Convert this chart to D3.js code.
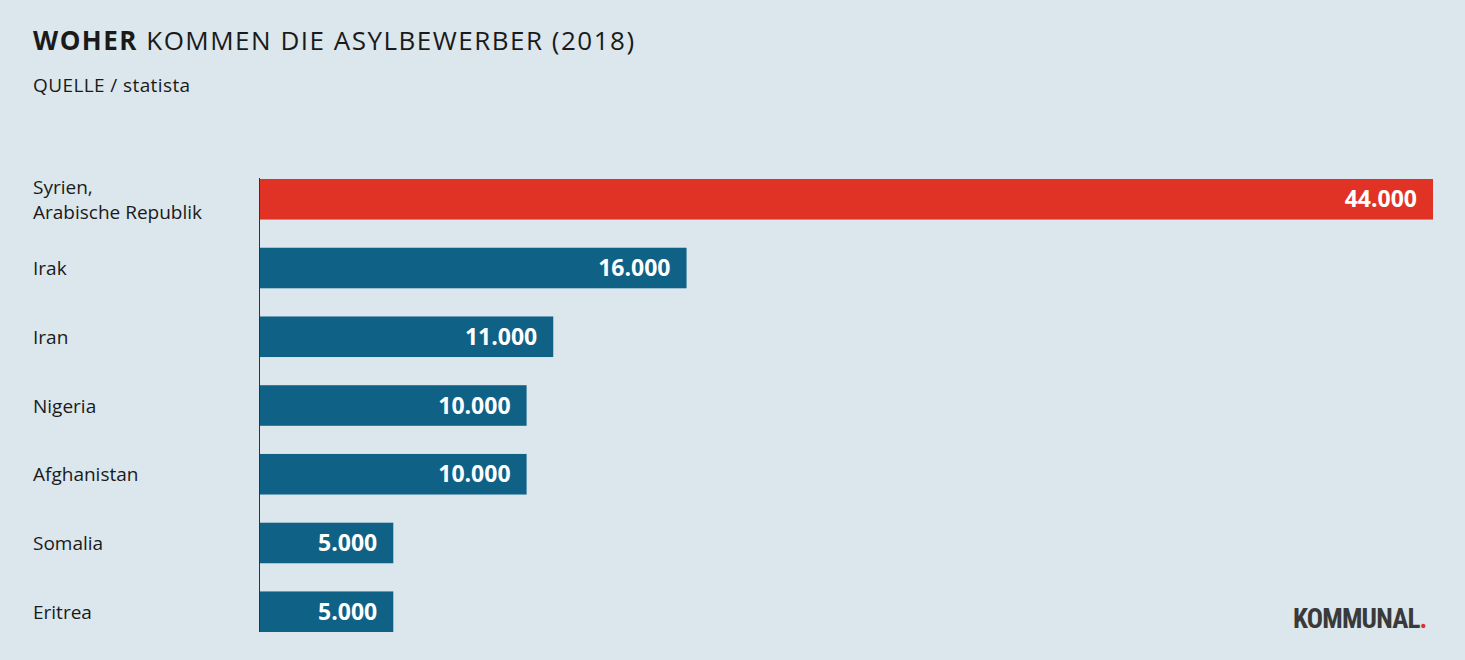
<!DOCTYPE html>
<html><head><meta charset="utf-8">
<script src="https://cdn.jsdelivr.net/npm/d3@7"></script>
<style>body{margin:0;background:#dbe7ed;}svg{display:block;font-family:"Open Sans",sans-serif;}</style>
</head><body>
<svg id="c" width="1465" height="660"></svg>
<script>
const categories = [["Syrien,","Arabische Republik"],["Irak"],["Iran"],["Nigeria"],["Afghanistan"],["Somalia"],["Eritrea"]];
const values = [44000,16000,11000,10000,10000,5000,5000];
const valueLabels = ["44.000","16.000","11.000","10.000","10.000","5.000","5.000"];
const svg = d3.select("#c");
svg.append("rect").attr("width",1465).attr("height",660).attr("fill","#dbe7ed");
const t = svg.append("text").attr("x",33).attr("y",50).attr("font-size",26).attr("fill","#1a1a1a").attr("letter-spacing",1.5);
t.append("tspan").attr("font-weight","bold").text("WOHER");
t.append("tspan").text(" KOMMEN DIE ASYLBEWERBER (2018)");
svg.append("text").attr("x",33).attr("y",92).attr("font-size",19).attr("fill","#1a1a1a").attr("letter-spacing",0.4).text("QUELLE / statista");
const x = d3.scaleLinear().domain([0,44000]).range([260,1433]);
const y = d3.scaleBand().domain(d3.range(values.length)).range([179,632]).paddingInner(0.41).paddingOuter(0);
values.forEach((v,i)=>{
  svg.append("rect").attr("x",x(0)).attr("y",y(i)).attr("width",x(v)-x(0)).attr("height",y.bandwidth())
    .attr("fill",i===0?"#e03326":"#0f6186");
  svg.append("text").attr("x",x(v)-16).attr("y",y(i)+y.bandwidth()/2+8).attr("text-anchor","end")
    .attr("font-size",23).attr("font-weight","bold").attr("fill","#fff").text(valueLabels[i]);
  const lines = categories[i];
  const lt = svg.append("text").attr("font-size",19).attr("fill","#1a1a1a");
  lines.forEach((l,k)=>{
    lt.append("tspan").attr("x",33).attr("y",y(i)+y.bandwidth()/2+7+(k-(lines.length-1)/2)*25).text(l);
  });
});
svg.append("line").attr("x1",259.5).attr("x2",259.5).attr("y1",178).attr("y2",632).attr("stroke","#333").attr("stroke-width",1);
const lg = svg.append("text").attr("x",1293).attr("y",628).attr("font-size",27).attr("font-weight","bold")
  .attr("font-family","'Roboto Condensed','Liberation Sans Narrow',Roboto,sans-serif").attr("fill","#3a3a3a").attr("letter-spacing",-0.8);
lg.append("tspan").text("KOMMUNAL");
lg.append("tspan").attr("fill","#e03326").text(".");
</script></body></html>
